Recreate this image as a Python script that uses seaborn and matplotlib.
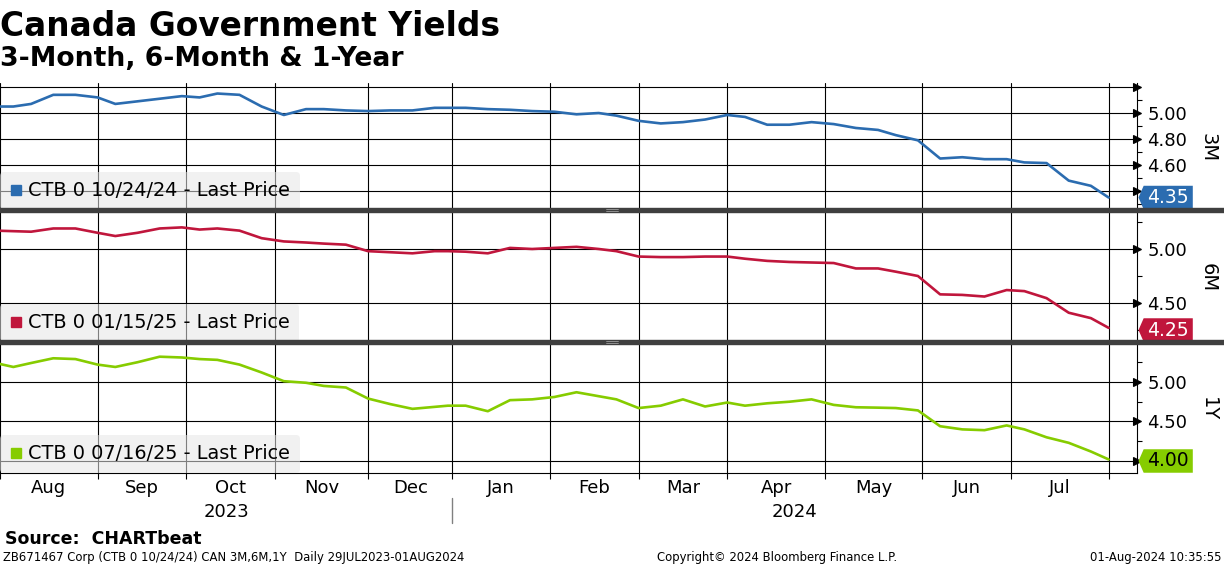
import numpy as np
import pandas as pd
import matplotlib
matplotlib.use("Agg")
import matplotlib.pyplot as plt
from matplotlib.lines import Line2D
from matplotlib.patches import Rectangle
from matplotlib.path import Path
import seaborn as sns

sns.set_style("white")
plt.rcParams["font.family"] = ["DejaVu Sans"]
plt.rcParams["text.color"] = "black"
plt.rcParams["xtick.color"] = "black"
plt.rcParams["ytick.color"] = "black"
plt.rcParams["axes.labelcolor"] = "black"

# weekly samples (Fridays) plus first and last day
start = "2023-07-31"
dates = (["2023-07-31"]
         + list(pd.date_range("2023-08-04", "2024-07-26", freq="W-FRI").strftime("%Y-%m-%d"))
         + ["2024-08-01"])
# Canadian bond market holidays (dropped from the business-day axis)
holidays = ["2023-08-07", "2023-09-04", "2023-10-02", "2023-10-09", "2023-11-13",
            "2023-12-25", "2023-12-26", "2024-01-01", "2024-02-19", "2024-03-29",
            "2024-05-20", "2024-07-01"]

yield_3m = [5.05, 5.05, 5.07, 5.14, 5.14, 5.12, 5.07, 5.09, 5.11, 5.13,
            5.12, 5.15, 5.14, 5.05, 4.985, 5.03, 5.03, 5.02, 5.015, 5.02,
            5.02, 5.04, 5.04, 5.04, 5.03, 5.025, 5.015, 5.01, 4.99, 5.00,
            4.98, 4.94, 4.92, 4.93, 4.95, 4.985, 4.97, 4.91, 4.91, 4.93,
            4.915, 4.885, 4.87, 4.83, 4.79, 4.65, 4.66, 4.645, 4.645, 4.62,
            4.615, 4.48, 4.44, 4.35]
yield_6m = [5.17, 5.165, 5.16, 5.19, 5.19, 5.15, 5.12, 5.15, 5.19, 5.20,
            5.18, 5.19, 5.17, 5.10, 5.07, 5.06, 5.05, 5.04, 4.98, 4.97,
            4.96, 4.98, 4.98, 4.975, 4.96, 5.01, 5.00, 5.01, 5.02, 5.00,
            4.98, 4.93, 4.925, 4.925, 4.93, 4.93, 4.91, 4.89, 4.88, 4.875,
            4.87, 4.82, 4.82, 4.79, 4.75, 4.58, 4.575, 4.56, 4.62, 4.61,
            4.545, 4.41, 4.36, 4.27]
yield_1y = [5.24, 5.19, 5.24, 5.30, 5.29, 5.22, 5.19, 5.25, 5.32, 5.31,
            5.29, 5.28, 5.22, 5.12, 5.01, 4.99, 4.95, 4.93, 4.79, 4.72,
            4.66, 4.685, 4.70, 4.70, 4.63, 4.77, 4.78, 4.81, 4.87, 4.82,
            4.78, 4.67, 4.70, 4.78, 4.69, 4.74, 4.70, 4.73, 4.75, 4.78,
            4.71, 4.68, 4.675, 4.67, 4.64, 4.44, 4.40, 4.39, 4.45, 4.40,
            4.30, 4.23, 4.12, 4.02]

last_price = [4.35, 4.25, 4.00]
panel_names = ["3M", "6M", "1Y"]
legend_labels = ["CTB 0 10/24/24 - Last Price",
                 "CTB 0 01/15/25 - Last Price",
                 "CTB 0 07/16/25 - Last Price"]
colors = ["#2b6cb0", "#c0163c", "#86cc00"]
tag_text_colors = ["white", "white", "black"]
month_names = ["Aug", "Sep", "Oct", "Nov", "Dec", "Jan", "Feb", "Mar", "Apr", "May", "Jun", "Jul"]

ylims = [(4.254, 5.231), (4.139, 5.361), (3.848, 5.506)]
major_ticks = [[4.40, 4.60, 4.80, 5.00, 5.20], [4.50, 5.00], [4.00, 4.50, 5.00]]
major_labels = [["", "4.60", "4.80", "5.00", ""], ["4.50", "5.00"], ["", "4.50", "5.00"]]
minor_ticks = [[4.30, 4.50, 4.70, 4.90, 5.10], [4.25, 4.75, 5.25], [4.25, 4.75, 5.25]]

W, H = 1224, 566
# panel top / bottom in pixels
panel_px = [(83, 210), (210, 342), (342, 473)]
right_px = 1137


def bday(d):
    return np.busday_count(start, np.asarray(d, dtype="datetime64[D]"), holidays=holidays)


# business-day x axis (like Bloomberg)
x_idx = bday(dates)
month_starts = pd.date_range("2023-08-01", "2024-08-01", freq="MS").strftime("%Y-%m-%d")
ms_idx = bday(list(month_starts))
mid_idx = (ms_idx[:-1] + ms_idx[1:]) / 2
xlim = (0.99, 257.4)
jan_idx = bday("2024-01-01")


def tag_shape(x0, y0, width, height, mutation_size):
    pad = 0.2 * mutation_size
    x0, y0 = x0 - pad, y0 - 0.12 * mutation_size
    x1, y1 = x0 + width + 2 * pad, y0 + height + 0.24 * mutation_size
    tip = 0.22 * (y1 - y0)
    ym = (y0 + y1) / 2
    return Path([(x0 - tip, ym), (x0, y1), (x1, y1), (x1, y0), (x0, y0), (x0 - tip, ym)],
                closed=True)


fig = plt.figure(figsize=(W / 100, H / 100), dpi=100)
series = [yield_3m, yield_6m, yield_1y]
axes = []
for i, vals in enumerate(series):
    top, bot = panel_px[i]
    ax = fig.add_axes([0, 1 - bot / H, right_px / W, (bot - top) / H])
    axes.append(ax)
    df = pd.DataFrame({"idx": x_idx, "value": vals})
    sns.lineplot(data=df, x="idx", y="value", ax=ax, color=colors[i], lw=1.9,
                 legend=False, zorder=3)
    ax.set_xlim(*xlim)
    ax.set_ylim(*ylims[i])
    ax.set_xlabel("")
    ax.set_ylabel("")

    ax.yaxis.tick_right()
    ax.set_yticks(major_ticks[i])
    ax.set_yticklabels(major_labels[i])
    ax.set_yticks(minor_ticks[i], minor=True)
    ax.tick_params(axis="y", which="major", length=6, width=0.8, pad=1.5,
                   labelsize=13, colors="black", direction="out")
    ax.tick_params(axis="y", which="minor", length=3.5, width=0.8, direction="out")
    for t in ax.yaxis.get_major_ticks():
        t.tick2line.set_marker(">")
        t.tick2line.set_markersize(6)
        t.tick2line.set_markerfacecolor("black")

    ax.set_xticks(ms_idx)
    ax.grid(True, which="major", color="black", lw=0.8)
    for s in ["top", "left", "bottom"]:
        ax.spines[s].set_visible(False)
    ax.spines["right"].set_color("black")
    ax.spines["right"].set_linewidth(0.8)

    if i < 2:
        ax.tick_params(axis="x", which="both", length=0, labelbottom=False)
    else:
        ax.spines["bottom"].set_visible(True)
        ax.spines["bottom"].set_color("black")
        ax.spines["bottom"].set_linewidth(0.8)
        ax.tick_params(axis="x", which="major", length=4, width=0.8, direction="out",
                       labelbottom=False, bottom=True)
        ax.set_xticks(mid_idx, minor=True)
        ax.set_xticklabels(month_names, minor=True)
        ax.tick_params(axis="x", which="minor", length=0, labelsize=13, pad=4)
        trans = ax.get_xaxis_transform()
        ax.text((xlim[0] + jan_idx) / 2, -0.30, "2023", transform=trans,
                ha="center", va="center", fontsize=13)
        ax.text((jan_idx + xlim[1]) / 2, -0.30, "2024", transform=trans,
                ha="center", va="center", fontsize=13)
        ax.plot([jan_idx, jan_idx], [-0.19, -0.385], transform=trans, color="#808080",
                lw=1, clip_on=False)

    # legend box
    handle = Line2D([0], [0], marker="s", ls="none", color=colors[i], markersize=7.5)
    leg = ax.legend([handle], [legend_labels[i]], loc="lower left", bbox_to_anchor=(0, 0),
                    borderaxespad=0, frameon=True, fancybox=True, framealpha=0.55,
                    facecolor="#e6e6e6", edgecolor="none", fontsize=13.9,
                    handlelength=0.65, handletextpad=0.3, borderpad=0.5)
    leg.set_zorder(6)

    # last price tag
    ax.annotate(f"{last_price[i]:.2f}", xy=(1, last_price[i]),
                xycoords=("axes fraction", "data"), xytext=(7.5, 0),
                textcoords="offset points", ha="left", va="center", fontsize=13.5,
                color=tag_text_colors[i], annotation_clip=False, zorder=8,
                bbox=dict(boxstyle=tag_shape, fc=colors[i], ec="none"))

    ax.text(1.0625, 0.49, panel_names[i], transform=ax.transAxes, rotation=270,
            ha="center", va="center", fontsize=14)

# dark separators between panels
for ypx in [210, 342]:
    fig.add_artist(Rectangle((0, 1 - (ypx + 2) / H), 1, 4 / H, transform=fig.transFigure,
                             color="#3f3f3f", zorder=10))
    for dy in [-0.6, 0.6]:
        fig.add_artist(Line2D([606 / W, 618 / W], [1 - (ypx + dy) / H] * 2,
                              transform=fig.transFigure, color="#b0b0b0", lw=0.5, zorder=11))

fig.text(0.0, 1 - 36.5 / H, "Canada Government Yields", fontsize=23.7, fontweight="bold",
         ha="left", va="baseline")
fig.text(0.0, 1 - 66.5 / H, "3-Month, 6-Month & 1-Year", fontsize=19.2, fontweight="bold",
         ha="left", va="baseline")
fig.text(5 / W, 1 - 544 / H, "Source:  CHARTbeat", fontsize=12.5, fontweight="bold",
         ha="left", va="baseline")
fig.text(3 / W, 1 - 560.5 / H,
         "ZB671467 Corp (CTB 0 10/24/24) CAN 3M,6M,1Y  Daily 29JUL2023-01AUG2024",
         fontsize=8.4, ha="left", va="baseline")
fig.text(657 / W, 1 - 560.5 / H, "Copyright\u00a9 2024 Bloomberg Finance L.P.",
         fontsize=8.4, ha="left", va="baseline")
fig.text(1222 / W, 1 - 560.5 / H, "01-Aug-2024 10:35:55", fontsize=8.4,
         ha="right", va="baseline")

fig.savefig("out.png", dpi=100, facecolor="white")
